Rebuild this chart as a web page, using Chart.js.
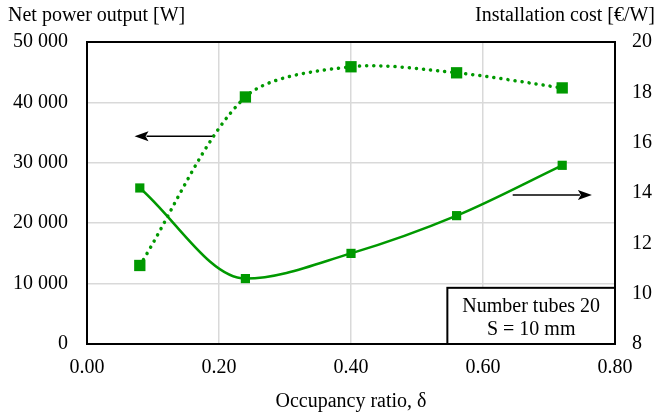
<!DOCTYPE html>
<html>
<head>
<meta charset="utf-8">
<script src="https://cdn.jsdelivr.net/npm/chart.js@4"></script>
<style>
  html, body { margin: 0; padding: 0; background: #fff; }
</style>
</head>
<body>
<canvas id="chart1" width="658" height="418"></canvas>
<script>
const occupancy = [0.08, 0.24, 0.40, 0.56, 0.72];
const netPower = [13000, 40900, 45900, 44900, 42400];
const installCost = [14.2, 10.6, 11.6, 13.1, 15.1];

const powerTicks = [0, 10000, 20000, 30000, 40000, 50000];
const costTicks = [8, 10, 12, 14, 16, 18, 20];
const occupancyTicks = [0, 0.2, 0.4, 0.6, 0.8];

const FONT = "Liberation Serif";
const GREEN = "#009900";
const INK = "#000000";

function pts(xs, ys) {
    return xs.map((x, i) => ({ x: x, y: ys[i] }));
}

function spaced(v) {
    return String(v).replace(/\B(?=(\d{3})+(?!\d))/g, " ");
}

function arrow(ctx, x1, x2, y) {
    const dir = x2 > x1 ? 1 : -1;
    ctx.beginPath();
    ctx.moveTo(x1, y);
    ctx.lineTo(x2 - dir * 12, y);
    ctx.strokeStyle = "#000";
    ctx.lineWidth = 1.5;
    ctx.stroke();
    ctx.beginPath();
    ctx.moveTo(x2, y);
    ctx.lineTo(x2 - dir * 14, y - 5);
    ctx.lineTo(x2 - dir * 11, y);
    ctx.lineTo(x2 - dir * 14, y + 5);
    ctx.closePath();
    ctx.fillStyle = "#000";
    ctx.fill();
}

// frame, arrows, axis titles and the note box
const extras = {
    id: "extras",
    afterDatasetsDraw(chart) {
        const ctx = chart.ctx;
        const a = chart.chartArea;
        const x = chart.scales.x, yL = chart.scales.yPower, yR = chart.scales.yCost;
        ctx.save();

        arrow(ctx, x.getPixelForValue(0.19), x.getPixelForValue(0.072), yL.getPixelForValue(34400));
        arrow(ctx, x.getPixelForValue(0.645), x.getPixelForValue(0.765), yR.getPixelForValue(13.92));

        // note box
        const bx = x.getPixelForValue(0.546), by = yL.getPixelForValue(9300);
        ctx.fillStyle = "#fff";
        ctx.fillRect(bx, by, a.right - bx, a.bottom - by);
        ctx.strokeStyle = "#000";
        ctx.lineWidth = 2;
        ctx.strokeRect(bx, by, a.right - bx, a.bottom - by);
        ctx.fillStyle = INK;
        ctx.font = "20px '" + FONT + "'";
        ctx.textAlign = "center";
        ctx.textBaseline = "alphabetic";
        const cx = (bx + a.right) / 2;
        ctx.fillText("Number tubes 20", cx, by + 24);
        ctx.fillText("S = 10 mm", cx, by + 47);

        // plot frame
        ctx.strokeRect(a.left, a.top, a.right - a.left, a.bottom - a.top);

        // axis titles
        ctx.textAlign = "left";
        ctx.fillText("Net power output [W]", 8, 21);
        ctx.textAlign = "right";
        ctx.fillText("Installation cost [€/W]", 655, 21);
        ctx.textAlign = "center";
        ctx.fillText("Occupancy ratio, δ", (a.left + a.right) / 2, 407);
        ctx.restore();
    }
};

Chart.defaults.font.family = FONT;
Chart.defaults.font.size = 20;
Chart.defaults.color = INK;

new Chart(document.getElementById("chart1"), {
    type: "line",
    data: {
        datasets: [
            {
                label: "Net power output",
                data: pts(occupancy, netPower),
                yAxisID: "yPower",
                borderColor: GREEN,
                backgroundColor: GREEN,
                borderWidth: 3.5,
                borderDash: [0.1, 7],
                borderCapStyle: "round",
                tension: 0.3,
                pointStyle: "rect",
                pointRadius: 8,
                pointBorderWidth: 0
            },
            {
                label: "Installation cost",
                data: pts(occupancy, installCost),
                yAxisID: "yCost",
                borderColor: GREEN,
                backgroundColor: GREEN,
                borderWidth: 2.5,
                cubicInterpolationMode: "monotone",
                pointStyle: "rect",
                pointRadius: 6.5,
                pointBorderWidth: 0
            }
        ]
    },
    options: {
        responsive: false,
        animation: false,
        devicePixelRatio: 1,
        layout: { padding: { top: 42, left: 0, right: 0, bottom: 0 } },
        plugins: { legend: { display: false }, tooltip: { enabled: false } },
        scales: {
            x: {
                type: "linear",
                min: 0,
                max: 0.8,
                afterFit(s) { s.height = 74; },
                afterBuildTicks(s) { s.ticks = occupancyTicks.map(v => ({ value: v })); },
                grid: { color: "#d9d9d9", lineWidth: 1.5, drawTicks: false },
                border: { display: false },
                ticks: { padding: 12, callback: v => v.toFixed(2) }
            },
            yPower: {
                position: "left",
                min: 0,
                max: 50000,
                afterFit(s) { s.width = 87; },
                afterBuildTicks(s) { s.ticks = powerTicks.map(v => ({ value: v })); },
                grid: { color: "#d9d9d9", lineWidth: 1.5, drawTicks: false },
                border: { display: false },
                ticks: { padding: 19, callback: v => spaced(v) }
            },
            yCost: {
                position: "right",
                min: 8,
                max: 20,
                afterFit(s) { s.width = 43; },
                afterBuildTicks(s) { s.ticks = costTicks.map(v => ({ value: v })); },
                grid: { display: false, drawTicks: false },
                border: { display: false },
                ticks: { padding: 17 }
            }
        }
    },
    plugins: [extras]
});
</script>
</body>
</html>
